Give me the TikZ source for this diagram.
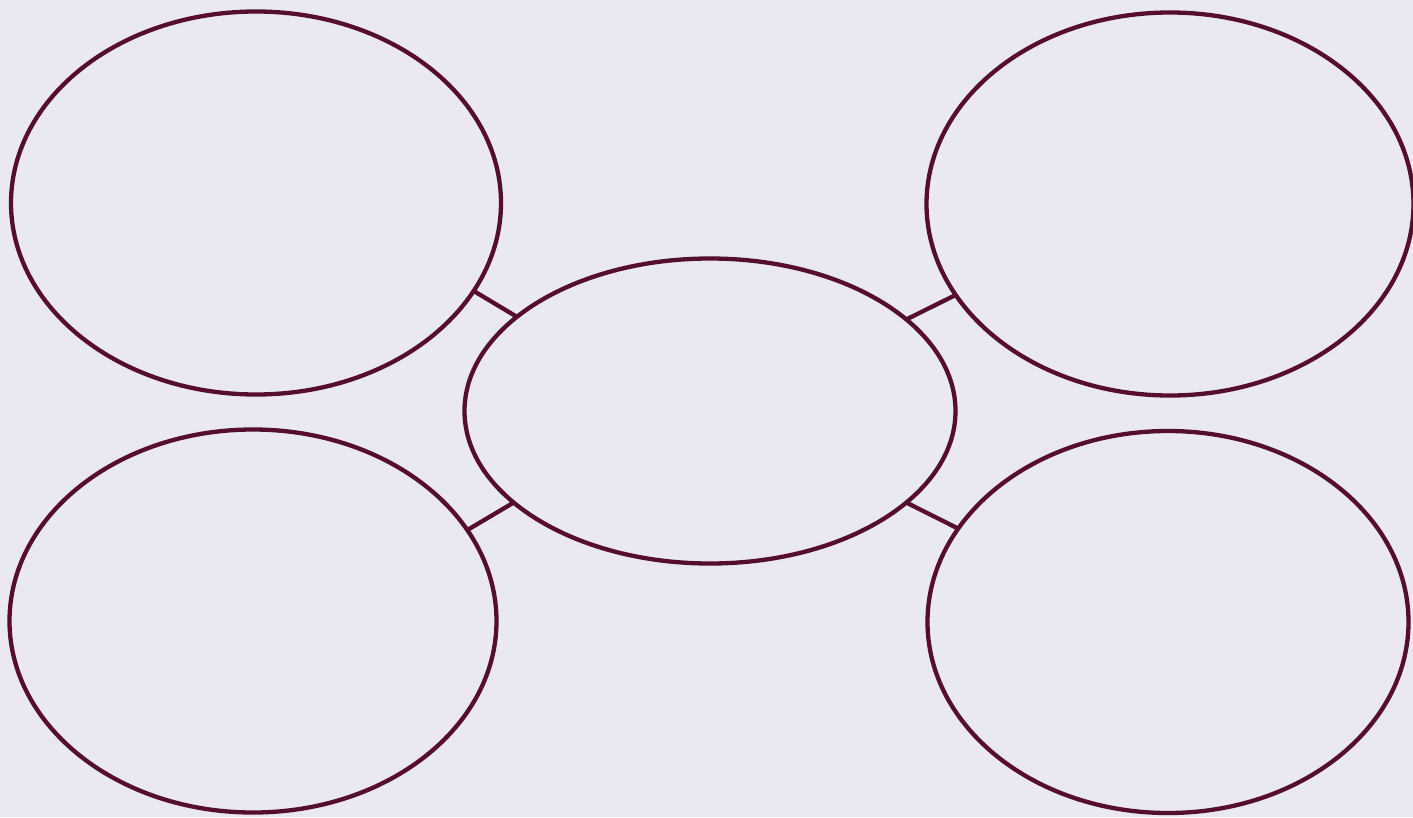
\documentclass[tikz,border=0pt]{standalone}
\usetikzlibrary{shapes.geometric}
\definecolor{bg}{HTML}{EAE8F0}
\definecolor{ink}{HTML}{560E30}
\tikzset{
  bubble/.style={ellipse, draw=ink, line width=4.3pt, inner sep=0pt, outer sep=0pt},
  link/.style={draw=ink, line width=4.3pt}
}
\begin{document}
\begin{tikzpicture}[x=1pt,y=-1pt]
\fill[bg] (0,0) rectangle (1413,817);
\useasboundingbox (0,0) rectangle (1413,817);
\node[bubble, minimum width=490pt, minimum height=383pt] (tl) at (256,203) {};
\node[bubble, minimum width=487pt, minimum height=383pt] (tr) at (1170,204) {};
\node[bubble, minimum width=487pt, minimum height=383pt] (bl) at (253,621) {};
\node[bubble, minimum width=481pt, minimum height=382pt] (br) at (1168,622) {};
\node[bubble, minimum width=491pt, minimum height=305pt] (c) at (710,411) {};
\draw[link] (tl.-22) -- (c.154);
\draw[link] (tr.-157) -- (c.25);
\draw[link] (bl.23) -- (c.-155);
\draw[link] (br.156) -- (c.-25);
\end{tikzpicture}
\end{document}
